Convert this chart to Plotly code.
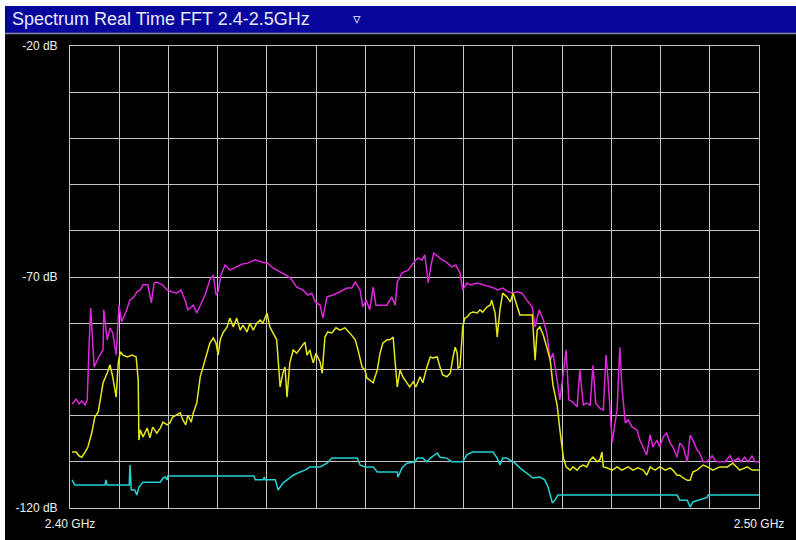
import plotly.graph_objects as go

# frequency in MHz, level in dB
mag_f = [2400.3, 2400.9, 2401.3, 2401.7, 2402.2, 2402.5, 2402.8, 2403.0, 2403.5, 2404.1,
         2404.8, 2404.9, 2405.4, 2405.8, 2406.2, 2406.7, 2407.1, 2407.5, 2408.1, 2408.7,
         2409.3, 2409.7, 2410.2, 2410.6, 2411.3, 2411.8, 2412.2, 2412.6, 2413.4, 2414.1,
         2414.8, 2415.5, 2416.1, 2416.7, 2417.1, 2417.9, 2418.4, 2418.9, 2419.6, 2420.3,
         2420.8, 2421.2, 2421.5, 2421.9, 2422.5, 2423.2, 2424.1, 2425.0, 2425.8, 2426.9,
         2427.9, 2428.7, 2429.5, 2430.0, 2430.9, 2431.6, 2432.2, 2432.9, 2433.8, 2434.5,
         2435.1, 2435.6, 2436.3, 2436.7, 2437.3, 2438.2, 2439.2, 2440.2, 2440.9, 2441.4,
         2442.1, 2442.5, 2443.0, 2443.5, 2444.0, 2444.4, 2445.0, 2446.0, 2446.7, 2447.2,
         2447.5, 2448.2, 2449.1, 2449.8, 2450.5, 2451.1, 2451.5, 2452.0, 2452.4, 2452.8,
         2453.7, 2454.6, 2455.4, 2456.0, 2456.6, 2457.0, 2457.6, 2458.1, 2459.1, 2460.2,
         2461.2, 2462.1, 2462.8, 2463.6, 2464.3, 2464.9, 2465.6, 2466.3, 2467.1, 2467.5,
         2468.1, 2468.7, 2469.2, 2469.7, 2470.1, 2470.7, 2471.1, 2471.6, 2472.0, 2472.4,
         2473.0, 2473.6, 2474.0, 2474.5, 2475.0, 2475.5, 2475.9, 2476.3, 2476.9, 2477.4,
         2477.8, 2478.1, 2478.7, 2479.1, 2479.4, 2479.8, 2480.1, 2480.6, 2481.0, 2481.6,
         2482.3, 2482.7, 2483.2, 2483.7, 2484.2, 2484.6, 2485.2, 2485.6, 2486.1, 2486.6,
         2487.1, 2487.5, 2488.1, 2488.5, 2489.0, 2489.6, 2490.0, 2490.4, 2491.0, 2491.4,
         2491.9, 2492.5, 2493.2, 2493.8, 2495.1, 2495.8, 2496.2, 2497.0, 2497.4, 2497.9,
         2498.4, 2499.0, 2499.4, 2500.0]
mag_db = [-97.5, -96.4, -97.5, -96.8, -97.7, -96.6, -83.6, -76.7, -89.5, -87.5,
          -85.8, -77.1, -83.6, -81.0, -82.1, -86.9, -76.1, -79.7, -77.6, -75.0,
          -74.3, -73.2, -72.8, -71.7, -71.7, -75.6, -71.3, -71.1, -71.7, -72.8,
          -73.2, -73.5, -72.8, -75.0, -77.1, -76.1, -77.8, -76.1, -73.9, -70.6,
          -69.6, -73.9, -73.2, -69.6, -67.4, -68.5, -67.8, -67.2, -67.0, -66.3,
          -66.8, -67.0, -68.1, -68.5, -69.1, -69.8, -70.6, -72.2, -72.8, -73.9,
          -73.5, -75.4, -76.1, -78.9, -74.3, -73.9, -73.2, -72.4, -72.4, -71.1,
          -72.8, -76.5, -75.0, -77.1, -72.2, -76.1, -76.1, -76.1, -74.3, -76.1,
          -71.1, -69.1, -68.5, -67.0, -65.9, -66.3, -65.2, -71.3, -67.4, -64.8,
          -65.9, -66.8, -67.8, -67.4, -69.1, -72.8, -71.3, -71.7, -71.3, -71.7,
          -72.2, -72.8, -72.4, -73.2, -73.5, -73.2, -73.5, -75.0, -76.5, -80.8,
          -77.1, -79.3, -82.1, -88.0, -86.5, -92.3, -96.6, -90.8, -85.8, -96.6,
          -97.1, -98.1, -90.1, -97.7, -97.3, -97.7, -89.1, -97.3, -98.4, -98.8,
          -86.9, -92.3, -105.9, -101.6, -98.8, -85.2, -93.8, -101.6, -100.9, -102.5,
          -103.1, -105.3, -106.8, -108.5, -104.2, -106.8, -105.3, -106.8, -104.6, -103.8,
          -105.9, -106.8, -109.0, -105.9, -106.8, -110.0, -104.2, -105.3, -107.4, -108.1,
          -110.0, -110.0, -108.7, -110.0, -110.0, -108.7, -110.0, -109.2, -110.0, -109.0,
          -110.0, -108.7, -110.0, -110.0]

yel_f = [2400.3, 2400.9, 2401.3, 2401.7, 2402.2, 2402.6, 2403.2, 2403.6, 2404.1, 2404.4,
         2404.8, 2405.4, 2405.8, 2406.2, 2406.7, 2407.0, 2407.3, 2407.7, 2408.3, 2409.0,
         2409.6, 2409.9, 2410.0, 2410.2, 2410.6, 2411.2, 2411.6, 2412.0, 2412.6, 2413.1,
         2413.5, 2414.1, 2414.5, 2414.9, 2415.5, 2416.0, 2416.4, 2416.8, 2417.1, 2417.6,
         2417.9, 2418.4, 2418.9, 2419.3, 2419.9, 2420.3, 2420.8, 2421.2, 2421.5, 2421.8,
         2422.2, 2422.8, 2423.2, 2423.7, 2424.2, 2424.7, 2425.1, 2425.7, 2426.1, 2426.6,
         2427.1, 2427.6, 2428.0, 2428.6, 2429.0, 2429.5, 2430.0, 2430.5, 2430.9, 2431.2,
         2431.5, 2431.9, 2432.4, 2432.9, 2433.4, 2433.8, 2434.1, 2434.4, 2434.8, 2435.3,
         2435.7, 2436.3, 2436.6, 2437.0, 2437.4, 2438.0, 2438.6, 2439.2, 2439.9, 2440.6,
         2441.4, 2441.8, 2442.4, 2442.8, 2443.1, 2443.5, 2444.0, 2444.6, 2445.0, 2445.4,
         2446.0, 2446.4, 2446.9, 2447.2, 2447.5, 2447.9, 2448.3, 2448.9, 2449.3, 2449.8,
         2450.2, 2450.8, 2451.2, 2451.8, 2452.3, 2452.7, 2453.3, 2453.7, 2454.1, 2454.7,
         2455.2, 2455.6, 2455.9, 2456.2, 2456.3, 2456.6, 2457.0, 2457.3, 2457.6, 2458.1,
         2458.5, 2459.1, 2459.5, 2459.9, 2460.5, 2461.0, 2461.2, 2461.7, 2462.0, 2462.4,
         2462.8, 2463.4, 2463.9, 2464.3, 2464.9, 2465.3, 2466.3, 2467.1, 2467.5, 2467.8,
         2468.2, 2468.7, 2469.2, 2469.7, 2470.1, 2470.7, 2471.1, 2471.6, 2472.0, 2472.6,
         2473.0, 2473.6, 2474.0, 2474.5, 2475.0, 2475.5, 2475.9, 2476.5, 2476.9, 2477.2,
         2477.4, 2477.9, 2478.7, 2479.4, 2480.1, 2481.0, 2481.7, 2482.4, 2483.2, 2483.7,
         2484.2, 2484.9, 2485.6, 2486.4, 2487.1, 2487.5, 2488.1, 2488.5, 2489.0, 2489.6,
         2490.0, 2490.4, 2491.0, 2491.9, 2492.5, 2493.3, 2494.3, 2495.4, 2496.2, 2497.2,
         2498.3, 2499.0, 2500.0]
yel_db = [-107.9, -107.9, -108.7, -109.0, -107.9, -106.8, -103.5, -100.3, -99.2, -96.0,
          -92.9, -90.8, -89.0, -91.6, -96.0, -88.6, -86.2, -86.9, -87.3, -86.9,
          -87.3, -92.3, -105.3, -103.1, -104.6, -102.7, -104.8, -102.5, -103.8, -102.7,
          -101.4, -102.0, -101.6, -100.3, -99.9, -99.4, -101.0, -102.0, -99.9, -101.4,
          -99.4, -97.3, -91.6, -89.5, -86.9, -84.3, -83.2, -84.3, -86.9, -83.6,
          -82.1, -80.8, -78.9, -80.8, -78.9, -81.5, -80.4, -81.9, -80.0, -81.5,
          -80.0, -79.3, -80.0, -77.8, -80.8, -82.1, -83.6, -93.8, -90.8, -89.5,
          -96.0, -88.6, -85.8, -86.5, -85.4, -84.7, -84.1, -86.9, -85.8, -88.6,
          -86.5, -88.4, -90.8, -83.0, -81.9, -82.1, -81.0, -81.5, -81.0, -82.1,
          -83.6, -85.8, -89.5, -90.1, -91.9, -92.3, -92.9, -90.1, -86.5, -84.3,
          -83.6, -83.6, -83.0, -88.6, -93.8, -90.1, -91.6, -92.9, -93.8, -92.7,
          -93.8, -91.6, -92.9, -89.5, -87.3, -87.5, -87.3, -89.5, -91.2, -91.6,
          -90.8, -87.3, -85.2, -86.5, -89.7, -89.5, -80.8, -78.9, -78.7, -77.8,
          -77.6, -77.8, -77.1, -77.6, -76.5, -76.1, -75.0, -77.8, -83.0, -77.1,
          -73.5, -74.3, -75.4, -73.5, -76.5, -78.2, -78.2, -78.2, -88.0, -81.5,
          -80.8, -82.6, -85.2, -88.0, -93.4, -97.7, -103.1, -109.0, -111.1, -111.8,
          -111.1, -111.8, -111.1, -110.7, -111.1, -109.6, -109.0, -110.0, -109.6, -107.9,
          -111.1, -111.3, -111.8, -111.1, -111.8, -111.1, -111.8, -111.3, -111.8, -112.9,
          -111.1, -111.8, -111.1, -111.8, -111.3, -111.8, -112.9, -112.9, -113.5, -114.0,
          -114.0, -112.2, -111.8, -110.7, -111.1, -111.8, -111.1, -111.1, -110.3, -111.8,
          -111.1, -111.8, -111.8]

cyan_f = [2400.3, 2400.7, 2405.1, 2405.2, 2405.4, 2408.6, 2408.7, 2408.9, 2409.4, 2409.7,
          2410.0, 2410.6, 2413.1, 2413.5, 2413.8, 2414.1, 2414.2, 2426.7, 2426.9, 2428.0,
          2428.2, 2428.3, 2429.8, 2430.2, 2430.9, 2431.5, 2431.9, 2432.4, 2433.4, 2434.1,
          2434.8, 2436.3, 2437.3, 2438.0, 2441.7, 2442.1, 2442.8, 2444.0, 2444.6, 2447.5,
          2447.6, 2448.2, 2448.9, 2450.1, 2450.4, 2451.2, 2451.8, 2452.3, 2453.3, 2453.7,
          2454.7, 2455.4, 2457.0, 2457.6, 2458.1, 2458.5, 2461.4, 2462.0, 2462.4, 2462.8,
          2463.4, 2463.9, 2464.6, 2465.3, 2466.3, 2467.2, 2468.2, 2468.9, 2469.4, 2470.0,
          2470.4, 2470.8, 2488.1, 2488.5, 2489.6, 2490.0, 2490.4, 2491.4, 2492.5, 2492.6,
          2500.0]
cyan_db = [-113.9, -115.0, -115.0, -113.9, -115.0, -115.0, -110.7, -116.1, -116.1, -117.2,
           -115.5, -114.4, -114.4, -113.5, -113.3, -113.9, -113.1, -113.1, -113.9, -113.9,
           -113.3, -113.9, -113.9, -116.1, -114.6, -113.9, -113.5, -112.9, -112.2, -111.8,
           -111.1, -111.1, -110.3, -109.2, -109.2, -110.7, -111.1, -111.1, -112.2, -112.2,
           -113.3, -111.3, -110.3, -110.0, -109.2, -109.2, -110.0, -109.2, -108.1, -109.0,
           -109.2, -110.0, -110.0, -108.5, -108.1, -107.9, -107.9, -109.2, -110.7, -109.2,
           -109.2, -109.6, -110.3, -111.3, -112.4, -113.5, -113.3, -113.9, -115.5, -118.9,
           -118.3, -117.2, -117.2, -118.3, -118.3, -119.8, -118.7, -118.3, -117.7, -117.2,
           -117.2]

x_start, x_end = 2400, 2500
x_grid = [x_start + k * (x_end - x_start) / 14 for k in range(15)]
x_text = ['2.40 GHz'] + [''] * 13 + ['2.50 GHz']
y_grid = list(range(-120, -19, 10))
y_text = [f'{v} dB' if v in (-20, -70, -120) else '' for v in y_grid]

fig = go.Figure()
fig.add_trace(go.Scatter(x=mag_f, y=mag_db, mode='lines', line=dict(color='#dc28dc', width=1.5)))
fig.add_trace(go.Scatter(x=yel_f, y=yel_db, mode='lines', line=dict(color='#e6e61c', width=1.5)))
fig.add_trace(go.Scatter(x=cyan_f, y=cyan_db, mode='lines', line=dict(color='#22d4d4', width=1.5)))

grid = '#c4c4c4'
tick_font = dict(family='Liberation Sans, Arial', size=12, color='#f0f0f0')

fig.update_layout(
    width=796, height=540,
    margin=dict(l=70, r=37, t=46, b=32),
    paper_bgcolor='white', plot_bgcolor='black',
    showlegend=False,
    xaxis=dict(range=[x_start, x_end], tickvals=x_grid, ticktext=x_text,
               showgrid=True, gridcolor=grid, gridwidth=1, zeroline=False,
               showline=True, linecolor=grid, mirror=True, automargin=False,
               tickfont=tick_font, ticklabelstandoff=5, fixedrange=True),
    yaxis=dict(range=[-120, -20], tickvals=y_grid, ticktext=y_text,
               showgrid=True, gridcolor=grid, gridwidth=1, zeroline=False,
               showline=True, linecolor=grid, mirror=True, automargin=False,
               tickfont=tick_font, ticklabelstandoff=9, fixedrange=True),
    shapes=[
        # black window body
        dict(type='rect', xref='paper', yref='paper', x0=-0.0943, x1=1.06, y0=-0.08, y1=1.0866,
             fillcolor='black', line=dict(width=0), layer='below'),
        # blue title bar
        dict(type='rect', xref='paper', yref='paper', x0=-0.0943, x1=1.06, y0=1.0281, y1=1.0866,
             fillcolor='#06069c', line=dict(width=0), layer='below'),
        dict(type='line', xref='paper', yref='paper', x0=-0.0943, x1=1.06, y0=1.0270, y1=1.0270,
             line=dict(color='#8a8a9a', width=1.5), layer='below'),
    ],
    annotations=[
        dict(text='Spectrum Real Time FFT 2.4-2.5GHz', xref='paper', yref='paper',
             x=-0.087, y=1.0575, xanchor='left', yanchor='middle', showarrow=False,
             font=dict(family='Liberation Sans, Arial', size=18, color='#e8e8f4')),
        dict(text='▿', xref='paper', yref='paper',
             x=0.417, y=1.0575, xanchor='center', yanchor='middle', showarrow=False,
             font=dict(family='DejaVu Sans', size=15, color='#e8e8f4')),
    ],
)

fig.write_html('out.html', config={'displayModeBar': False},
               post_script="document.body.style.margin='0';")
